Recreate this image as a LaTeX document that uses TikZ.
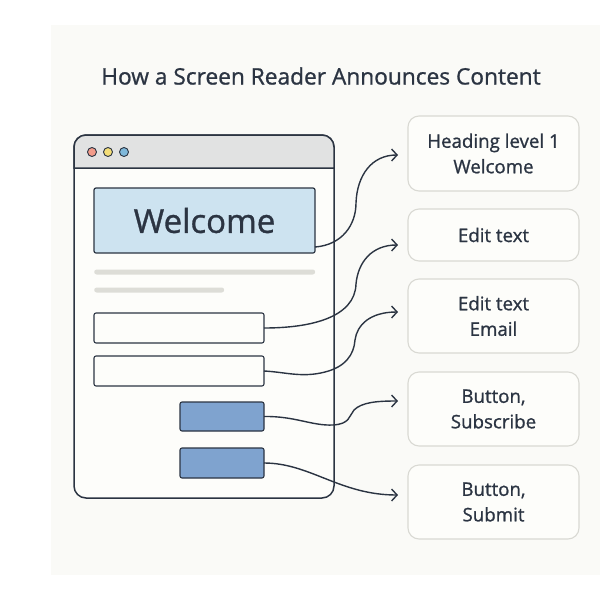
\documentclass[tikz,border=0pt]{standalone}
\usepackage{fontspec}
\setmainfont[RawFeature={embolden=1.0}]{Open Sans}
\usetikzlibrary{arrows.meta}
\definecolor{ink}{HTML}{2B3442}
\definecolor{panel}{HTML}{FAFAF7}
\definecolor{paper}{HTML}{FDFDFA}
\definecolor{barfill}{HTML}{E1E2E2}
\definecolor{rulefill}{HTML}{DDDDD7}
\definecolor{cardline}{HTML}{D9D9D3}
\definecolor{headfill}{HTML}{CDE3F0}
\definecolor{btnfill}{HTML}{7FA3CF}
\definecolor{dotred}{HTML}{F29B8A}
\definecolor{dotyellow}{HTML}{F3DD78}
\definecolor{dotblue}{HTML}{7FB8DA}
\tikzset{
	box/.style={draw=ink,rounded corners=2pt,inner sep=0pt,outer sep=0pt},
	card/.style={draw=cardline,fill=paper,line width=1.1pt,rounded corners=11pt,minimum width=171pt,align=center,inner sep=0pt,outer sep=0pt,text=ink,font=\fontsize{18.7}{25.5}\selectfont},
	dot/.style={circle,draw=ink,line width=0.9pt,minimum size=9pt,inner sep=0pt},
	textline/.style={fill=rulefill,rounded corners=2.5pt,minimum height=5pt,inner sep=0pt,anchor=west},
	link/.style={draw=ink,line width=1.4pt,-{Straight Barb[length=5.5pt,width=12pt]}}
}
\begin{document}
\begin{tikzpicture}[x=1pt,y=-1pt]
		\useasboundingbox (0,0) rectangle (600,600);
		\fill[panel] (51,25) rectangle (600,575);
		\node[text=ink,font=\fontsize{22.7}{28}\selectfont] (title) at (321,76) {How a Screen Reader Announces Content};
		% browser window
		\node[box,fill=paper,line width=1.5pt,rounded corners=12pt,minimum width=260pt,minimum height=363pt] (window) at (204,316.5) {};
		\path[fill=barfill,draw=ink,line width=1.5pt] (74,168) {[rounded corners=12pt] -- (74,135) -- (334,135)} -- (334,168) -- cycle;
		\node[dot,fill=dotred] (d1) at (92,152) {};
		\node[dot,fill=dotyellow] (d2) at (108,152) {};
		\node[dot,fill=dotblue] (d3) at (124,152) {};
		\node[box,fill=headfill,line width=1.2pt,minimum width=221pt,minimum height=65pt,text=ink,font=\fontsize{33}{38}\selectfont] (welcome) at (204.5,220.5) {Welcome};
		\node[textline,minimum width=221pt] (line1) at (94,272) {};
		\node[textline,minimum width=130pt] (line2) at (94,290) {};
		\begin{scope}[every node/.style={box,line width=1.1pt}]
			\node[fill=paper,minimum width=170pt,minimum height=30pt] (input1) at (179,328) {};
			\node[fill=paper,minimum width=170pt,minimum height=30pt] (input2) at (179,371) {};
			\node[fill=btnfill,minimum width=84pt,minimum height=29pt] (btn1) at (222,416.5) {};
			\node[fill=btnfill,minimum width=84pt,minimum height=30pt] (btn2) at (222,463) {};
		\end{scope}
		% announcements
		\node[card,minimum height=75pt] (card1) at (493.5,153.5) {Heading level 1\\Welcome};
		\node[card,minimum height=52pt] (card2) at (493.5,235) {Edit text};
		\node[card,minimum height=74pt] (card3) at (493.5,316) {Edit text\\Email};
		\node[card,minimum height=74pt] (card4) at (493.5,409) {Button,\\Subscribe};
		\node[card,minimum height=74pt] (card5) at (493.5,502) {Button,\\Submit};
		\coordinate (from1) at ([yshift=6pt]welcome.south east);
		\coordinate (to1) at ([shift={(-10,1.5)}]card1.west);
		\coordinate (to2) at ([shift={(-10,10)}]card2.west);
		\coordinate (to3) at ([shift={(-10,-4)}]card3.west);
		\coordinate (to4) at ([shift={(-10,-8)}]card4.west);
		\coordinate (to5) at ([shift={(-10,-7)}]card5.west);
		\draw[link] (from1) .. controls (342,245) and (356,225) .. (356,203) .. controls (357,175) and (372,155) .. (to1);
		\draw[link] (input1.east) .. controls (312,328) and (355,317) .. (356,284) .. controls (358,262) and (372,245) .. (to2);
		\draw[link] (input2.east) .. controls (285,372) and (302,378) .. (325,372) .. controls (345,367) and (354,355) .. (355,340) .. controls (357,325) and (370,312) .. (to3);
		\draw[link] (btn1.east) .. controls (295,416) and (312,426) .. (333,425) .. controls (350,424) and (349,416) .. (354,410) .. controls (362,402) and (378,401) .. (to4);
		\draw[link] (btn2.east) .. controls (310,463) and (340,495) .. (to5);
	\end{tikzpicture}
\end{document}
